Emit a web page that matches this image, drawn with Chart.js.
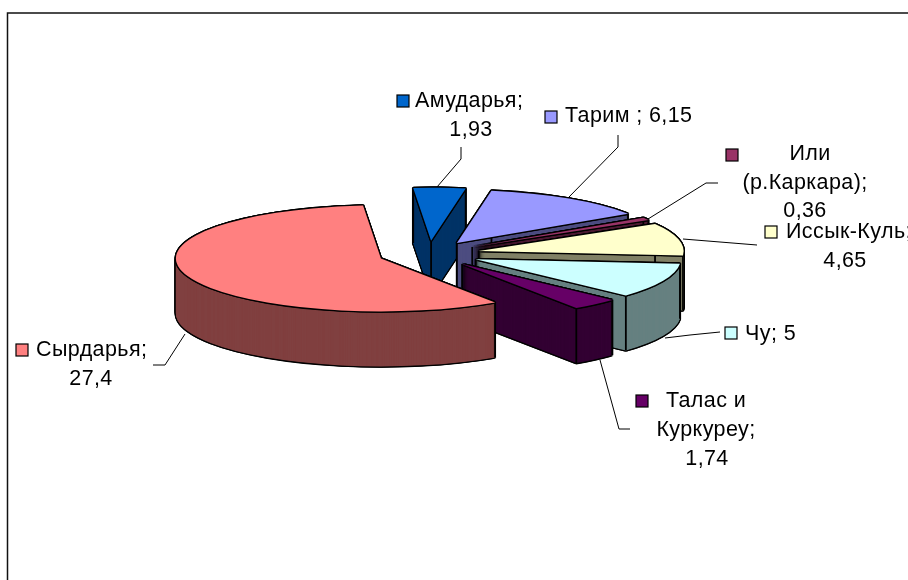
<!DOCTYPE html>
<html>
<head>
<meta charset="utf-8">
<style>html,body{margin:0;padding:0;background:#fff}canvas{display:block}</style>
<script src="https://cdn.jsdelivr.net/npm/chart.js@4/dist/chart.umd.min.js"></script>
</head>
<body>
<canvas id="c" width="908" height="580"></canvas>
<script>
// Data
const categories = ['Амударья', 'Тарим', 'Или (р.Каркара)', 'Иссык-Куль', 'Чу', 'Талас и Куркуреу', 'Сырдарья'];
const values = [1.93, 6.15, 0.36, 4.65, 5, 1.74, 27.4];
const topColors = ['#0066CC', '#9999FF', '#993366', '#FFFFCC', '#CCFFFF', '#660066', '#FF8080'];
const sideColors = ['#003366', '#4D4D80', '#4D1A33', '#808066', '#668080', '#330033', '#804040'];

// Data label text, as shown on the chart
const labelLines = [
  ['Амударья;', '1,93'],
  ['Тарим ; 6,15'],
  ['Или', '(р.Каркара);', '0,36'],
  ['Иссык-Куль;', '4,65'],
  ['Чу; 5'],
  ['Талас и', 'Куркуреу;', '1,74'],
  ['Сырдарья;', '27,4']
];

// Layout of the labels: legend key box, then [x, baseline, align] of each text line
const labelLayout = [
  {box:[397,95], lines:[[415,107,'left'],[471,136,'center']]},
  {box:[545,111], lines:[[565,122,'left']]},
  {box:[726,149], lines:[[810,160,'center'],[805,189,'center'],[805,217,'center']]},
  {box:[765,226], lines:[[786,238,'left'],[845,267,'center']]},
  {box:[725,327], lines:[[745,340,'left']]},
  {box:[636,395], lines:[[706,407,'center'],[706,436,'center'],[707,465,'center']]},
  {box:[16,344], lines:[[36,356,'left'],[91,385,'center']]}
];
const leaderLines = [
  [[461,147],[461,159],[437,187]],
  [[618,135],[618,147],[569,197]],
  [[718,183],[706,183],[648,219]],
  [[757,245],[683,239]],
  [[720,332],[690,335],[665,338]],
  [[630,429],[619,429],[600,360]],
  [[153,365],[165,365],[185,334]]
];

// Pie projection
const RADIUS = 205, TILT = 53 / 205, DEPTH = 55, EXPLODE = 51;
const DRAW_ORDER = [0, 1, 2, 3, 4, 5, 6];

function drawSlice(ctx, arc, color, dx, dy) {
  const mid = (arc.startAngle + arc.endAngle) / 2;
  const saved = arc.options;
  arc.options = {backgroundColor: color, borderColor: color, borderWidth: 0, offset: 0, spacing: 0, borderRadius: 0, circular: true};
  ctx.save();
  ctx.translate(arc.x + dx, arc.y + dy);
  ctx.scale(1, TILT);
  ctx.translate(-arc.x, -arc.y);
  ctx.translate(Math.cos(mid) * EXPLODE, Math.sin(mid) * EXPLODE);
  arc.draw(ctx);
  ctx.restore();
  arc.options = saved;
}
const AROUND = [[-1.4,0],[1.4,0],[0,-1.4],[0,1.4],[-1,-1],[1,-1],[-1,1],[1,1]];

const pie3d = {
  id: 'pie3d',
  beforeDatasetDraw(chart, args) {
    const ctx = chart.ctx;
    const arcs = chart.getDatasetMeta(args.index).data;
    DRAW_ORDER.forEach(i => {
      const arc = arcs[i];
      // extruded body
      for (let d = DEPTH; d >= 0; d--) AROUND.forEach(a => drawSlice(ctx, arc, '#000', a[0], d + a[1]));
      for (let d = DEPTH; d >= 0; d -= 0.5) drawSlice(ctx, arc, sideColors[i], 0, d);
      // vertical edges of the cut walls
      const mid = (arc.startAngle + arc.endAngle) / 2;
      const ox = Math.cos(mid) * EXPLODE, oy = Math.sin(mid) * EXPLODE;
      const corners = [
        [ox + Math.cos(arc.startAngle) * arc.outerRadius, oy + Math.sin(arc.startAngle) * arc.outerRadius],
        [ox + Math.cos(arc.endAngle) * arc.outerRadius, oy + Math.sin(arc.endAngle) * arc.outerRadius]];
      if (arc.circumference < Math.PI) corners.push([ox, oy]);
      ctx.save();
      ctx.strokeStyle = '#000';
      ctx.lineWidth = 1.8;
      corners.forEach(p => {
        const x = arc.x + p[0], y = arc.y + p[1] * TILT;
        ctx.beginPath(); ctx.moveTo(x, y); ctx.lineTo(x, y + DEPTH); ctx.stroke();
      });
      ctx.restore();
      // top face
      AROUND.forEach(a => drawSlice(ctx, arc, '#000', a[0], a[1]));
      drawSlice(ctx, arc, topColors[i], 0, 0);
    });
    return false;
  },
  afterDraw(chart) {
    const ctx = chart.ctx;
    ctx.save();
    // chart frame
    ctx.strokeStyle = '#111';
    ctx.lineWidth = 1.5;
    ctx.beginPath(); ctx.moveTo(7.5, 580); ctx.lineTo(7.5, 13); ctx.lineTo(908, 13); ctx.stroke();
    // leader lines
    ctx.strokeStyle = '#000';
    ctx.lineWidth = 1;
    leaderLines.forEach(l => {
      ctx.beginPath();
      l.forEach((p, j) => j ? ctx.lineTo(p[0], p[1]) : ctx.moveTo(p[0], p[1]));
      ctx.stroke();
    });
    // labels
    ctx.font = '21.5px "Liberation Sans", Arial, sans-serif';
    ctx.letterSpacing = '0.4px';
    ctx.textBaseline = 'alphabetic';
    labelLines.forEach((lines, i) => {
      const lay = labelLayout[i];
      ctx.fillStyle = topColors[i];
      ctx.strokeStyle = '#000';
      ctx.lineWidth = 1.2;
      ctx.fillRect(lay.box[0], lay.box[1], 12, 12);
      ctx.strokeRect(lay.box[0], lay.box[1], 12, 12);
      ctx.fillStyle = '#000';
      lines.forEach((t, j) => {
        const p = lay.lines[j];
        ctx.textAlign = p[2];
        ctx.fillText(t, p[0], p[1]);
      });
    });
    ctx.restore();
  }
};

new Chart(document.getElementById('c'), {
  type: 'pie',
  data: {labels: categories, datasets: [{data: values, backgroundColor: topColors, borderWidth: 0}]},
  options: {
    responsive: false,
    animation: false,
    radius: RADIUS,
    rotation: -5,
    layout: {padding: {left: 0, top: 0, right: 50, bottom: 72}},
    plugins: {legend: {display: false}, tooltip: {enabled: false}}
  },
  plugins: [pie3d]
});
</script>
</body>
</html>
